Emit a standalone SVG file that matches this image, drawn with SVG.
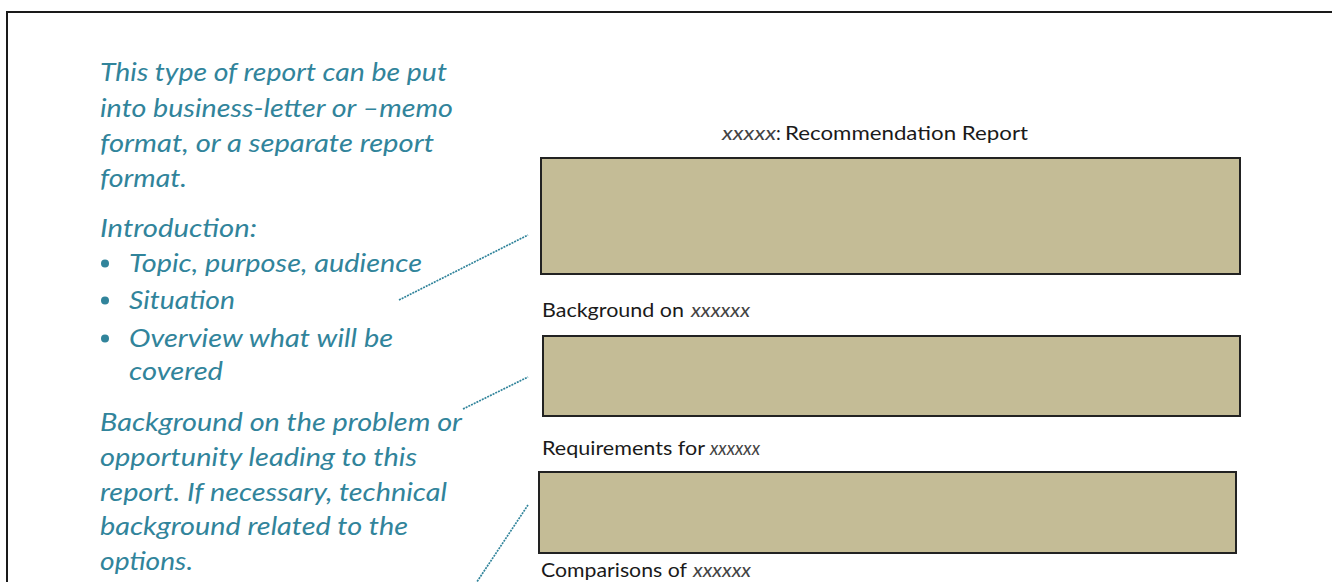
<svg xmlns="http://www.w3.org/2000/svg" width="1332" height="582" viewBox="0 0 1332 582">
<style>
.note{font-family:Lato,"Open Sans","Liberation Sans",sans-serif;font-style:italic;font-size:25px;fill:#31849B}
.lbl{font-family:Lato,"Open Sans","Liberation Sans",sans-serif;font-size:19px;fill:#1a1a1a}
.it{font-style:italic;fill:#444}
.box{fill:#C4BC96;stroke:#222;stroke-width:2}
.conn{stroke:#31849B;stroke-width:1.7;stroke-dasharray:2 1;fill:none}
.bul{fill:#31849B}
</style>
<rect width="1332" height="582" fill="#fff"/>
<path d="M7,584 V12 H1334" fill="none" stroke="#1a1a1a" stroke-width="2"/>
<g id="notes">
<text class="note" x="100" y="81" textLength="347" lengthAdjust="spacingAndGlyphs">This type of report can be put</text>
<text class="note" x="100" y="116.5" textLength="353" lengthAdjust="spacingAndGlyphs">into business-letter or –memo</text>
<text class="note" x="100" y="151.5" textLength="334" lengthAdjust="spacingAndGlyphs">format, or a separate report</text>
<text class="note" x="100" y="186.5" textLength="87" lengthAdjust="spacingAndGlyphs">format.</text>
<text class="note" x="100" y="236.5" textLength="157" lengthAdjust="spacingAndGlyphs">Introduction:</text>
<circle class="bul" cx="105" cy="263.5" r="4"/>
<text class="note" x="129" y="271.5" textLength="293" lengthAdjust="spacingAndGlyphs">Topic, purpose, audience</text>
<circle class="bul" cx="105" cy="300.5" r="4"/>
<text class="note" x="129" y="308.5" textLength="106" lengthAdjust="spacingAndGlyphs">Situation</text>
<circle class="bul" cx="105" cy="338.5" r="4"/>
<text class="note" x="129" y="346.5" textLength="264" lengthAdjust="spacingAndGlyphs">Overview what will be</text>
<text class="note" x="129" y="380" textLength="94" lengthAdjust="spacingAndGlyphs">covered</text>
<text class="note" x="100" y="430.5" textLength="362" lengthAdjust="spacingAndGlyphs">Background on the problem or</text>
<text class="note" x="100" y="465.5" textLength="317" lengthAdjust="spacingAndGlyphs">opportunity leading to this</text>
<text class="note" x="100" y="500.5" textLength="347" lengthAdjust="spacingAndGlyphs">report. If necessary, technical</text>
<text class="note" x="100" y="535" textLength="308" lengthAdjust="spacingAndGlyphs">background related to the</text>
<text class="note" x="100" y="570" textLength="93" lengthAdjust="spacingAndGlyphs">options.</text>
</g>
<g id="title">
<text class="lbl it" x="722" y="140" textLength="54" lengthAdjust="spacingAndGlyphs">xxxxx</text>
<text class="lbl" x="776" y="140">:</text>
<text class="lbl" x="785" y="140" textLength="243" lengthAdjust="spacingAndGlyphs">Recommendation Report</text>
</g>
<g id="box-intro">
<rect class="box" x="541" y="158" width="699" height="116"/>
</g>
<g id="label-background">
<text class="lbl" x="542" y="317" textLength="142" lengthAdjust="spacingAndGlyphs">Background on</text>
<text class="lbl it" x="691" y="317" textLength="59" lengthAdjust="spacingAndGlyphs">xxxxxx</text>
</g>
<g id="box-background">
<rect class="box" x="543" y="336" width="697" height="80"/>
</g>
<g id="label-requirements">
<text class="lbl" x="542" y="455" textLength="163" lengthAdjust="spacingAndGlyphs">Requirements for</text>
<text class="lbl it" x="710" y="455" textLength="50" lengthAdjust="spacingAndGlyphs">xxxxxx</text>
</g>
<g id="box-requirements">
<rect class="box" x="539" y="472" width="697" height="81"/>
</g>
<g id="label-comparisons">
<text class="lbl" x="541" y="577" textLength="146" lengthAdjust="spacingAndGlyphs">Comparisons of</text>
<text class="lbl it" x="693" y="577" textLength="58" lengthAdjust="spacingAndGlyphs">xxxxxx</text>
</g>
<g id="connectors">
<line class="conn" x1="399" y1="300" x2="528" y2="235"/>
<line class="conn" x1="463" y1="409" x2="528" y2="377"/>
<line class="conn" x1="475.5" y1="584" x2="528" y2="505"/>
</g>
</svg>
